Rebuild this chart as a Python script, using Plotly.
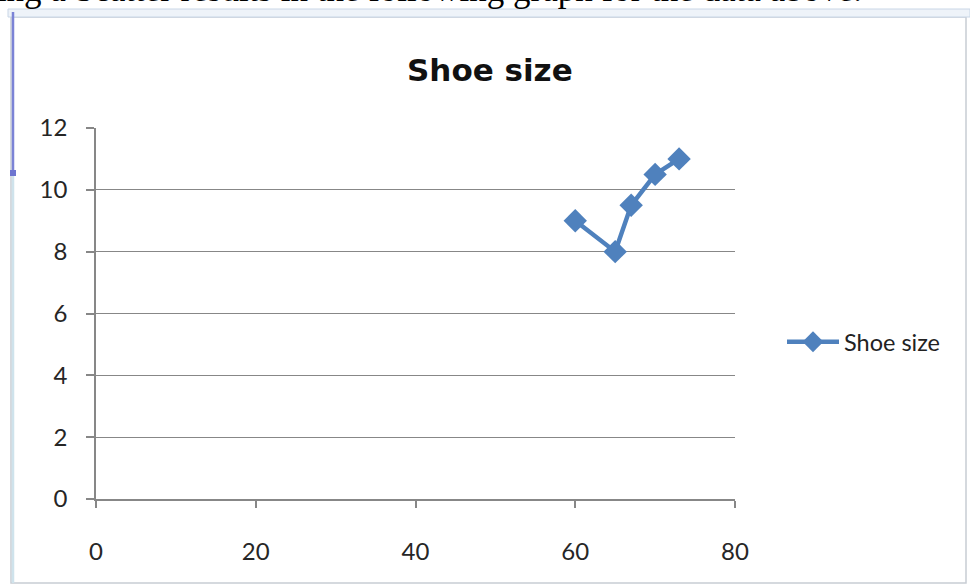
import plotly.graph_objects as go

# Data
heights = [60, 65, 67, 70, 73]
shoe_sizes = [9, 8, 9.5, 10.5, 11]
series_name = "Shoe size"
chart_title = "Shoe size"
x_ticks = [0, 20, 40, 60, 80]
y_ticks = [0, 2, 4, 6, 8, 10, 12]
caption = "Using a Scatter results in the following graph for the data above."

W, H = 970, 588
L, R, T, B = 96, 735, 128, 499  # plot area pixels


def px(x):
    return (x - L) / (R - L)


def py(y):
    return (B - y) / (B - T)


fig = go.Figure()
fig.add_trace(go.Scatter(
    x=heights, y=shoe_sizes, name=series_name, mode="lines+markers",
    line=dict(color="#4F81BD", width=4.5),
    marker=dict(symbol="diamond", size=18, color="#4F81BD"),
))

axis_col = "#878787"
tick_font = dict(family="Lato, Noto Sans, sans-serif", size=24, color="#262626")

fig.update_layout(
    width=W, height=H,
    margin=dict(l=L, r=W - R, t=T, b=H - B),
    paper_bgcolor="white", plot_bgcolor="white",
    title=dict(text="<b>" + chart_title + "</b>", x=0.505, xref="container",
               y=1 - 70 / H, yref="container", yanchor="middle",
               font=dict(family="DejaVu Sans, sans-serif", size=31, color="#111111")),
    showlegend=True,
    legend=dict(x=px(782), y=py(342), xanchor="left", yanchor="middle",
                itemwidth=52,
                font=dict(family="Lato, Noto Sans, sans-serif", size=23.5, color="#222222"),
                bgcolor="rgba(0,0,0,0)"),
    xaxis=dict(range=[0, 80], tickvals=x_ticks, showgrid=False, zeroline=False,
               showline=True, linecolor=axis_col, linewidth=1.5,
               ticks="outside", ticklen=7, tickcolor=axis_col, tickwidth=1.5,
               tickfont=tick_font, ticklabelstandoff=23, fixedrange=True),
    yaxis=dict(range=[0, 12], tickvals=y_ticks, showgrid=True, gridcolor=axis_col,
               gridwidth=1.3, zeroline=False,
               showline=True, linecolor=axis_col, linewidth=1.5,
               ticks="outside", ticklen=8, tickcolor=axis_col, tickwidth=1.5,
               tickfont=tick_font, ticklabelstandoff=14, fixedrange=True),
)

# Decorative frame of the embedded chart object
fig.add_shape(type="rect", xref="paper", yref="paper",
              x0=px(11), x1=px(966), y0=py(583), y1=py(17),
              line=dict(color="#c8cdd4", width=1.5), fillcolor="rgba(0,0,0,0)", layer="below")
fig.add_shape(type="rect", xref="paper", yref="paper",
              x0=px(8), x1=px(970), y0=py(17), y1=py(9),
              line=dict(color="#c9d6e6", width=1), fillcolor="#eef3f9", layer="below")
fig.add_shape(type="line", xref="paper", yref="paper",
              x0=px(13), x1=px(13), y0=py(175), y1=py(12),
              line=dict(color="#7b83d6", width=2.5))
fig.add_shape(type="line", xref="paper", yref="paper",
              x0=px(13), x1=px(13), y0=py(583), y1=py(175),
              line=dict(color="#cfe3ec", width=2.5))
fig.add_shape(type="rect", xref="paper", yref="paper",
              x0=px(10), x1=px(16), y0=py(176), y1=py(170),
              line=dict(width=0), fillcolor="#6d75d0")

# Clipped caption text at the top (only its lower part is visible)
fig.add_annotation(text=caption, xref="paper", yref="paper",
                   x=px(-44), y=py(-11), xanchor="left", yanchor="middle",
                   showarrow=False,
                   font=dict(family="Liberation Serif, serif", size=35, color="black"))

fig.write_html("out.html", config={"displayModeBar": False},
               post_script="document.body.style.margin='0';document.body.style.overflow='hidden';")
